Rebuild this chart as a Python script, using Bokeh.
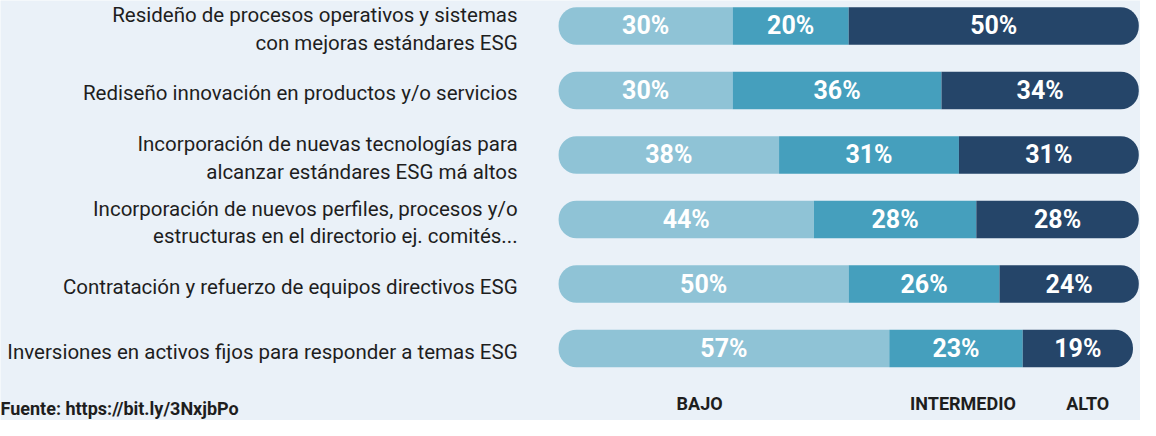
from bokeh.plotting import figure
from bokeh.models import Range1d, ColumnDataSource
from bokeh.core.properties import value
from bokeh.embed import file_html
from bokeh.resources import INLINE

# ---------------- data ----------------
categories = [
    "Resideño de procesos operativos y sistemas\ncon mejoras estándares ESG",
    "Rediseño innovación en productos y/o servicios",
    "Incorporación de nuevas tecnologías para\nalcanzar estándares ESG má altos",
    "Incorporación de nuevos perfiles, procesos y/o\nestructuras en el directorio ej. comités...",
    "Contratación y refuerzo de equipos directivos ESG",
    "Inversiones en activos fijos para responder a temas ESG",
]
bajo = [30, 30, 38, 44, 50, 57]
intermedio = [20, 36, 31, 28, 26, 23]
alto = [50, 34, 31, 28, 24, 19]
series_names = ["BAJO", "INTERMEDIO", "ALTO"]
legend_x = [24.3, 69.7, 91.2]
source_note = "Fuente: https://bit.ly/3NxjbPo"

# ---------------- style ----------------
BG = "#eaf1f8"
COLORS = ["#8fc3d6", "#459fbd", "#254569"]
TEXT = "#1e1e1e"
LABEL_FONT = "Roboto"
NUM_FONT = "Roboto"

X0, X1 = -96.2, 100.3
Y_TOP, Y_BOT = -0.395, 6.116

ypos = list(range(len(categories)))
series = [bajo, intermedio, alto]

p = figure(width=1140, height=420,
           x_range=Range1d(X0, X1), y_range=Range1d(Y_BOT, Y_TOP),
           output_backend="svg", toolbar_location=None,
           x_axis_location=None, y_axis_location=None,
           min_border=0, background_fill_color=BG, border_fill_color=BG,
           outline_line_color=None)
p.grid.visible = False

radii = [(18, 0, 0, 18), 0, (0, 18, 18, 0)]
cum = [0] * len(categories)
for vals, col, rad in zip(series, COLORS, radii):
    left = cum[:]
    right = [a + b for a, b in zip(cum, vals)]
    src = ColumnDataSource(dict(
        y=ypos, left=left, right=right,
        xc=[(a + b) / 2 for a, b in zip(left, right)],
        lab=[f"{v}%" for v in vals],
    ))
    p.hbar(y="y", left="left", right="right", height=0.583, source=src,
           fill_color=col, line_color=None, border_radius=rad)
    p.text(x="xc", y="y", text="lab", source=src, text_align="center",
           text_baseline="middle", text_color="white",
           text_font=value(NUM_FONT), text_font_style="bold",
           text_font_size="25px")
    cum = right

# category labels
p.text(x=[-7.07] * len(categories), y=ypos, text=categories,
       text_align="right", text_baseline="middle", text_color=TEXT,
       text_font=value(LABEL_FONT), text_font_size="20.5px",
       text_line_height=1.15, y_offset=3)

# legend-like labels
p.text(x=legend_x, y=[5.86] * 3, text=series_names,
       text_align="center", text_baseline="middle", text_color=TEXT,
       text_font=value(LABEL_FONT), text_font_style="bold",
       text_font_size="18px")

# source note
p.text(x=[X0], y=[Y_BOT], text=[source_note], text_align="left",
       text_baseline="bottom", text_color=TEXT, text_font=value(LABEL_FONT),
       text_font_style="bold", text_font_size="18px", y_offset=-2)

open("out.html", "w").write(file_html(p, INLINE))
